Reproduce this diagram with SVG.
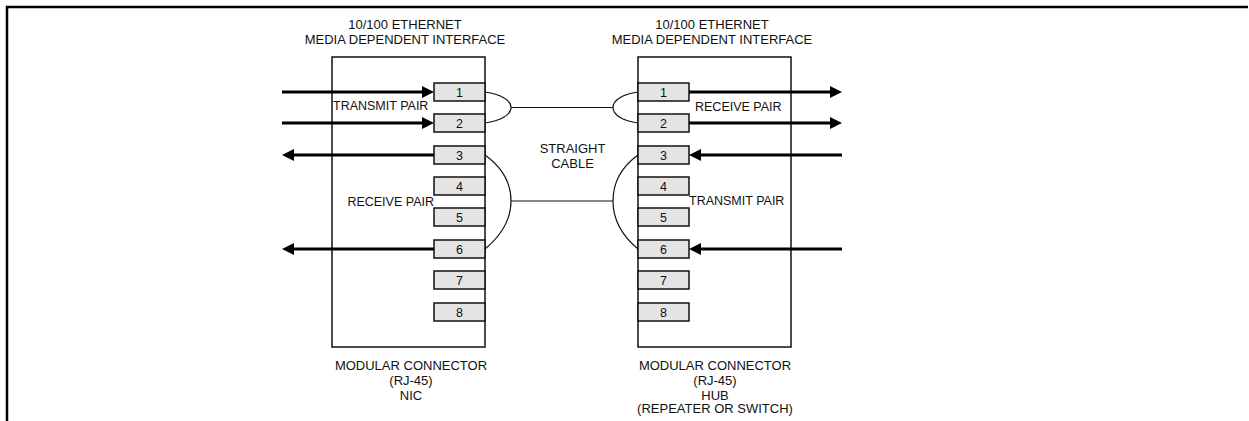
<svg xmlns="http://www.w3.org/2000/svg" width="1249" height="421" viewBox="0 0 1249 421">
<defs>
<style>
text{font-family:"Liberation Sans",Arial,sans-serif;fill:#111;}
.t{font-size:13px;text-anchor:middle;}
.lbl{font-size:12.5px;}
.pin rect{fill:#e4e4e4;stroke:#111;stroke-width:1.5;}
.pin text{font-size:12.5px;text-anchor:middle;}
.box{fill:#fff;stroke:#111;stroke-width:1.5;}
.sig{stroke:#000;stroke-width:3;fill:none;}
.wire{stroke:#111;stroke-width:1.2;fill:none;}
</style>
<marker id="ah" viewBox="0 0 12 12" refX="1" refY="6" markerWidth="12" markerHeight="12" markerUnits="userSpaceOnUse" orient="auto">
<path d="M0,0 L12,6 L0,12 Z" fill="#000"/>
</marker>
</defs>
<rect width="1249" height="421" fill="#fff"/>
<path d="M7,421 V7 H1248" fill="none" stroke="#000" stroke-width="2.5"/>

<g id="nic">
<rect class="box" x="332" y="57" width="153" height="290"/>
<text class="t" x="405" y="29">10/100 ETHERNET</text>
<text class="t" x="405" y="44">MEDIA DEPENDENT INTERFACE</text>
<text class="t" x="411" y="370">MODULAR CONNECTOR</text>
<text class="t" x="411" y="385">(RJ-45)</text>
<text class="t" x="411" y="400">NIC</text>
<text class="lbl" x="333" y="110">TRANSMIT PAIR</text>
<text class="lbl" x="434" y="206" text-anchor="end">RECEIVE PAIR</text>
</g>
<g id="nic-pins" class="pin">
<g id="nic-pin1"><rect x="434" y="83" width="51" height="18"/><text x="459.5" y="96.5">1</text></g>
<g id="nic-pin2"><rect x="434" y="114" width="51" height="18"/><text x="459.5" y="127.5">2</text></g>
<g id="nic-pin3"><rect x="434" y="146" width="51" height="18"/><text x="459.5" y="159.5">3</text></g>
<g id="nic-pin4"><rect x="434" y="177" width="51" height="18"/><text x="459.5" y="190.5">4</text></g>
<g id="nic-pin5"><rect x="434" y="208" width="51" height="18"/><text x="459.5" y="221.5">5</text></g>
<g id="nic-pin6"><rect x="434" y="240" width="51" height="18"/><text x="459.5" y="253.5">6</text></g>
<g id="nic-pin7"><rect x="434" y="271" width="51" height="18"/><text x="459.5" y="284.5">7</text></g>
<g id="nic-pin8"><rect x="434" y="303" width="51" height="18"/><text x="459.5" y="316.5">8</text></g>
</g>

<g id="hub">
<rect class="box" x="638" y="57" width="153" height="290"/>
<text class="t" x="712" y="29">10/100 ETHERNET</text>
<text class="t" x="712" y="44">MEDIA DEPENDENT INTERFACE</text>
<text class="t" x="715" y="370">MODULAR CONNECTOR</text>
<text class="t" x="715" y="385">(RJ-45)</text>
<text class="t" x="715" y="400">HUB</text>
<text class="t" x="715" y="413">(REPEATER OR SWITCH)</text>
<text class="lbl" x="695" y="111">RECEIVE PAIR</text>
<text class="lbl" x="689" y="205">TRANSMIT PAIR</text>
</g>
<g id="hub-pins" class="pin">
<g id="hub-pin1"><rect x="638" y="83" width="51" height="18"/><text x="663.5" y="96.5">1</text></g>
<g id="hub-pin2"><rect x="638" y="114" width="51" height="18"/><text x="663.5" y="127.5">2</text></g>
<g id="hub-pin3"><rect x="638" y="146" width="51" height="18"/><text x="663.5" y="159.5">3</text></g>
<g id="hub-pin4"><rect x="638" y="177" width="51" height="18"/><text x="663.5" y="190.5">4</text></g>
<g id="hub-pin5"><rect x="638" y="208" width="51" height="18"/><text x="663.5" y="221.5">5</text></g>
<g id="hub-pin6"><rect x="638" y="240" width="51" height="18"/><text x="663.5" y="253.5">6</text></g>
<g id="hub-pin7"><rect x="638" y="271" width="51" height="18"/><text x="663.5" y="284.5">7</text></g>
<g id="hub-pin8"><rect x="638" y="303" width="51" height="18"/><text x="663.5" y="316.5">8</text></g>
</g>

<g id="cable">
<text class="t" x="572.5" y="153">STRAIGHT</text>
<text class="t" x="572.5" y="168">CABLE</text>
</g>

<g id="connectors">
<path class="sig" d="M282,92 H423" marker-end="url(#ah)"/>
<path class="sig" d="M282,123 H423" marker-end="url(#ah)"/>
<path class="sig" d="M434,155 H293" marker-end="url(#ah)"/>
<path class="sig" d="M434,249 H293" marker-end="url(#ah)"/>
<path class="sig" d="M689,92 H831" marker-end="url(#ah)"/>
<path class="sig" d="M689,123 H831" marker-end="url(#ah)"/>
<path class="sig" d="M842,155 H700" marker-end="url(#ah)"/>
<path class="sig" d="M842,249 H700" marker-end="url(#ah)"/>
<path class="wire" d="M485,92 C500,94 511,100 511,107.5 C511,115 500,121 485,123"/>
<path class="wire" d="M638,92 C623,94 613,100 613,107.5 C613,115 623,121 638,123"/>
<path class="wire" d="M511,107.5 H613"/>
<path class="wire" d="M485,155 C503,168 511,184 511,201 C511,218 503,234 485,249"/>
<path class="wire" d="M638,155 C620,168 613,184 613,201 C613,218 620,234 638,249"/>
<path class="wire" d="M511,201 H613"/>
</g>
</svg>
